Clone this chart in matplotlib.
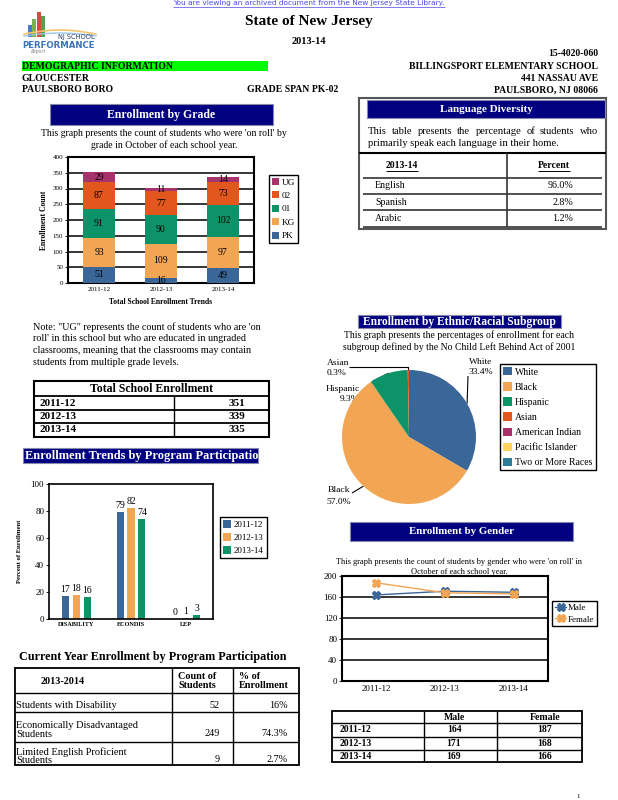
"""NJ School Performance Report - demographic information page, redrawn."""
import matplotlib
matplotlib.use("Agg")
import matplotlib.pyplot as plt
import numpy as np
from matplotlib.patches import Rectangle

plt.rcParams["font.family"] = ["Liberation Serif", "DejaVu Serif"]

W, H = 618, 800
NAVY = "#000080"
BLUE, ORANGE, GREEN = "#3B6698", "#F2A553", "#0C9468"
RED, PURPLE, YELLOW, TEAL = "#E2571E", "#A8336C", "#FFD35E", "#2C7C98"

# enrollment by grade
years = ["2011-12", "2012-13", "2013-14"]
grade_names = ["PK", "KG", "01", "02", "UG"]
pk = [51, 16, 49]
kg = [93, 109, 97]
g01 = [91, 90, 102]
g02 = [87, 77, 73]
ug = [29, 11, 14]
grade_colors = [BLUE, ORANGE, GREEN, RED, PURPLE]

total_enrollment = [351, 339, 335]

languages = ["English", "Spanish", "Arabic"]
language_pct = ["96.0%", "2.8%", "1.2%"]

# program participation trends (percent)
programs = ["DISABILITY", "ECONDIS", "LEP"]
program_2011 = [17, 79, 0]
program_2012 = [18, 82, 1]
program_2013 = [16, 74, 3]

subgroups = ["White", "Black", "Hispanic", "Asian", "American Indian",
             "Pacific Islander", "Two or More Races"]
subgroup_pct = [33.4, 57.0, 9.3, 0.3, 0.0, 0.0, 0.0]
subgroup_colors = [BLUE, ORANGE, GREEN, RED, PURPLE, YELLOW, TEAL]

current_programs = ["Students with Disability",
                    "Economically Disadvantaged\nStudents",
                    "Limited English Proficient\nStudents"]
current_counts = [52, 249, 9]
current_pct = ["16%", "74.3%", "2.7%"]

male = [164, 171, 169]
female = [187, 168, 166]


fig = plt.figure(figsize=(W / 100, H / 100), dpi=100)
page = fig.add_axes([0, 0, 1, 1])
page.set_xlim(0, W)
page.set_ylim(H, 0)
page.axis("off")
rend = fig.canvas.get_renderer()


def axes_px(x0, y0, x1, y1):
    return fig.add_axes([x0 / W, 1 - y1 / H, (x1 - x0) / W, (y1 - y0) / H])


def txt(x, y, s, fs=7, **kw):
    kw.setdefault("va", "center")
    return page.text(x, y, s, fontsize=fs, **kw)


def line(xs, ys, lw=1.0, color="black"):
    page.plot(xs, ys, color=color, lw=lw, solid_capstyle="butt")


def box(x0, y0, x1, y1, lw=1.0, fc="none", ec="black"):
    page.add_patch(Rectangle((x0, y0), x1 - x0, y1 - y0, fc=fc, ec=ec, lw=lw))


def header(x0, y0, x1, y1, s, fs=8.5, ha="center"):
    r = Rectangle((x0, y0), x1 - x0, y1 - y0, fc=NAVY, ec="#8888aa", lw=0.8)
    page.add_patch(r)
    tx = (x0 + x1) / 2 if ha == "center" else x0 + 2
    t = txt(tx, (y0 + y1) / 2 + 0.5, s, fs, ha=ha, color="white", weight="bold")
    t.set_clip_path(r)


def underline(t, dy=5, color="black", lw=0.7):
    bb = t.get_window_extent(rend)
    y = H - (bb.y0 + bb.y1) / 2 + dy
    line([bb.x0, bb.x1], [y, y], lw=lw, color=color)


def justify(x0, x1, y, s, fs):
    words = s.split()
    items = [txt(0, y, w, fs) for w in words]
    widths = [t.get_window_extent(rend).width for t in items]
    gap = (x1 - x0 - sum(widths)) / (len(words) - 1)
    x = x0
    for t, w in zip(items, widths):
        t.set_x(x)
        x += w + gap


# ---- page header ----
t = txt(309, 3, "You are viewing an archived document from the New Jersey State Library.",
        5.3, ha="center", color="#4848e8", family="DejaVu Sans")
underline(t, dy=3.5, color="#4848e8", lw=0.5)

# logo
for (lx, ly, c) in [(28, 25, "#4a78c8"), (32, 19, "#7cb342"), (37, 12, "#d84a3a"), (41, 16, "#5aa04a")]:
    box(lx, ly, lx + 4, 37, lw=0, fc=c)
sx = np.linspace(24, 96, 50)
page.plot(sx, 34 - 4 * np.sin((sx - 24) / 72 * np.pi), color="#f3c56a", lw=1.2)
page.plot(sx, 36 - 3 * np.sin((sx - 24) / 72 * np.pi), color="#9cc7e8", lw=1.0)
txt(95, 37.5, "NJ SCHOOL", 4.8, ha="right", color="#2b3a6a", family="DejaVu Sans")
txt(95, 45, "PERFORMANCE", 6.2, ha="right", color="#3b73b9", weight="bold", family="DejaVu Sans")
txt(30, 52, "Report", 4, color="#777777", style="italic")

txt(309, 22, "State of New Jersey", 11, ha="center", weight="bold")
txt(309, 42, "2013-14", 7.5, ha="center", weight="bold")
box(22, 61, 268, 71, lw=0, fc="#00ff00")
txt(22, 66.5, "DEMOGRAPHIC INFORMATION", 7, weight="bold")
txt(22, 78.5, "GLOUCESTER", 7, weight="bold")
txt(22, 90, "PAULSBORO BORO", 7, weight="bold")
txt(247, 89, "GRADE SPAN PK-02", 7, weight="bold")
txt(598, 54, "15-4020-060", 7, ha="right", weight="bold")
txt(598, 66.5, "BILLINGSPORT ELEMENTARY SCHOOL", 7, ha="right", weight="bold")
txt(598, 78.5, "441 NASSAU AVE", 7, ha="right", weight="bold")
txt(598, 90, "PAULSBORO, NJ 08066", 7, ha="right", weight="bold")

# ---- enrollment by grade ----
header(50, 104, 273, 125, "Enrollment by Grade", 8.5)
txt(164, 133, "This graph presents the count of students who were 'on roll' by", 7.05, ha="center")
txt(164, 145, "grade in October of each school year.", 7.05, ha="center")

ax = axes_px(68, 157, 254, 283)
x = np.arange(len(years))
bottom = np.zeros(len(years))
bars = []
for vals, c in zip([pk, kg, g01, g02, ug], grade_colors):
    b = ax.bar(x, vals, 0.52, bottom=bottom, color=c, zorder=3)
    for xi, v, b0 in zip(x, vals, bottom):
        ax.text(xi, b0 + v / 2, str(v), ha="center", va="center", fontsize=7, zorder=4)
    bottom += np.array(vals)
    bars.append(b)
ax.set_xlim(-0.5, 2.5)
ax.set_ylim(0, 400)
ax.set_yticks(range(0, 401, 50))
ax.set_xticks(x, years)
ax.grid(axis="y", color="black", lw=1.1, zorder=1)
ax.tick_params(labelsize=5, length=2, width=0.6, pad=1.5)
ax.tick_params(axis="x", length=0, pad=3)
for s in ax.spines.values():
    s.set_linewidth(1.5)
ax.set_ylabel("Enrollment Count", fontsize=5.5, weight="bold", labelpad=3)
ax.set_xlabel("Total School Enrollment Trends", fontsize=5.5, weight="bold", labelpad=4)
ax.legend(bars[::-1], grade_names[::-1], loc="upper left",
          bbox_to_anchor=(269 / W, 1 - 175 / H), bbox_transform=fig.transFigure,
          fontsize=6.7, handlelength=0.8, handleheight=0.8, handletextpad=0.25,
          labelspacing=0.5, borderpad=0.3, borderaxespad=0, fancybox=False,
          edgecolor="black", framealpha=1)

# ---- language diversity ----
box(359, 98, 606, 229, lw=1.5, ec="#555555")
header(367, 100, 605, 118, "Language Diversity", 8)
justify(368, 598, 131, "This table presents the percentage of students who", 7.6)
txt(368, 143, "primarily speak each language in their home.", 7.6)
line([359, 606], [153, 153], lw=1.5)
for yy in [178, 194, 210, 227]:
    line([363, 602], [yy, yy], lw=1.2, color="#333333")
line([507, 507], [153, 227], lw=1.2, color="#333333")
underline(txt(402, 166, "2013-14", 7, ha="center", weight="bold"))
underline(txt(554, 166, "Percent", 7, ha="center", weight="bold"))
for i, (lang, pct) in enumerate(zip(languages, language_pct)):
    yy = 186 + 16.3 * i
    txt(375, yy, lang, 7.2)
    txt(573, yy, pct, 7.2, ha="right")

# ---- note + total enrollment ----
note = ["Note: \"UG\" represents the count of students who are 'on",
        "roll' in this school but who are educated in ungraded",
        "classrooms, meaning that the classrooms may contain",
        "students from multiple grade levels."]
for i, s in enumerate(note):
    txt(33, 327 + 11.7 * i, s, 7.25)

box(34, 381, 269, 437, lw=1.5)
txt(151, 389, "Total School Enrollment", 8.5, ha="center", weight="bold")
for yy in [396, 410, 423]:
    line([34, 269], [yy, yy], lw=1.3)
line([174, 174], [396, 437], lw=1.0)
for i, (yr, n) in enumerate(zip(years, total_enrollment)):
    yy = 403 + 13.5 * i
    txt(40, yy, yr, 8, weight="bold")
    txt(237, yy, str(n), 8, ha="center", weight="bold")

# ---- enrollment trends by program ----
header(23, 448, 258, 463, "Enrollment Trends by Program Participation", 8.9, ha="left")
ax = axes_px(49, 484, 213, 619)
handles = []
for off, vals, c in zip([-0.2, 0, 0.2], [program_2011, program_2012, program_2013],
                        [BLUE, ORANGE, GREEN]):
    b = ax.bar(x + off, vals, 0.13, color=c)
    handles.append(b)
    for xi, v in zip(x + off, vals):
        ax.text(xi, v + 1.5, str(v), ha="center", va="bottom", fontsize=7)
ax.set_xlim(-0.5, 2.5)
ax.set_ylim(0, 100)
ax.set_yticks(range(0, 101, 20))
ax.set_xticks(x, programs)
ax.tick_params(axis="y", labelsize=6.5, length=2, width=0.6, pad=1.5)
ax.tick_params(axis="x", labelsize=4.5, length=0, pad=2)
for lab in ax.get_xticklabels():
    lab.set_fontweight("bold")
for s in ax.spines.values():
    s.set_linewidth(1.2)
ax.set_ylabel("Percent of Enrollment", fontsize=4.8, weight="bold", labelpad=6)
ax.legend(handles, years, loc="upper left",
          bbox_to_anchor=(220 / W, 1 - 517 / H), bbox_transform=fig.transFigure,
          fontsize=6.5, handlelength=0.9, handleheight=0.9, handletextpad=0.3,
          labelspacing=0.45, borderpad=0.35, borderaxespad=0, fancybox=False,
          edgecolor="black", framealpha=1)

# ---- current year program table ----
txt(153, 657, "Current Year Enrollment by Program Participation", 8.7, ha="center", weight="bold")
box(15, 668, 299, 765, lw=1.3)
for xx in [172, 233]:
    line([xx, xx], [668, 765], lw=1.0)
for yy in [693, 712, 742]:
    line([15, 299], [yy, yy], lw=1.0)
txt(63, 681, "2013-2014", 7.3, ha="center", weight="bold")
txt(178, 681, "Count of\nStudents", 7.3, weight="bold", linespacing=1.0)
txt(239, 681, "% of\nEnrollment", 7.3, weight="bold", linespacing=1.0)
row_y = [705, 730, 756]
for yy, name, n, pct in zip(row_y, current_programs, current_counts, current_pct):
    txt(16, yy, name, 7.5, linespacing=0.95)
    txt(220, yy + (4 if "\n" in name else 0), str(n), 7.3, ha="right")
    txt(288, yy + (4 if "\n" in name else 0), pct, 7.3, ha="right")

# ---- ethnic / racial subgroup pie ----
header(358, 315, 561, 328, "Enrollment by Ethnic/Racial Subgroup", 8.3)
txt(459, 335, "This graph presents the percentages of enrollment for each", 7.0, ha="center")
txt(459, 347, "subgroup defined by the No Child Left Behind Act of 2001", 7.0, ha="center")
cx, cy, rad = 409, 437, 67
ax = axes_px(cx - rad, cy - rad, cx + rad, cy + rad)
wedges, _ = ax.pie(subgroup_pct, colors=subgroup_colors, startangle=90,
                   counterclock=False, radius=1, wedgeprops=dict(linewidth=0))
ax.set_xlim(-1, 1)
ax.set_ylim(-1, 1)
ax.legend(wedges, subgroups, loc="upper left",
          bbox_to_anchor=(500 / W, 1 - 364 / H), bbox_transform=fig.transFigure,
          fontsize=7, handlelength=0.9, handleheight=0.9, handletextpad=0.3,
          labelspacing=0.58, borderpad=0.35, borderaxespad=0, fancybox=False,
          edgecolor="black", framealpha=1)

frac = np.array(subgroup_pct) / sum(subgroup_pct)
cum = np.concatenate([[0], np.cumsum(frac)])
mid = np.radians(90 - 360 * (cum[:-1] + cum[1:]) / 2)
edge = [(cx + rad * np.cos(a), cy - rad * np.sin(a)) for a in mid]
txt(469, 362, "White", 6.8)
txt(469, 372, "33.4%", 6.8)
line([468, edge[0][0]], [376, edge[0][1]], lw=0.8)
txt(339, 490, "Black", 6.8, ha="center")
txt(339, 502, "57.0%", 6.8, ha="center")
line([352, edge[1][0]], [493, edge[1][1]], lw=0.8)
txt(360, 389, "Hispanic", 6.8, ha="right")
txt(360, 399, "9.3%", 6.8, ha="right")
line([361, 368, 373, edge[2][0]], [393, 391, 381, edge[2][1]], lw=0.8)
txt(327, 363, "Asian", 6.8)
txt(327, 373, "0.3%", 6.8)
line([349, edge[3][0], edge[3][0]], [367, 367, edge[3][1]], lw=0.8)

# ---- enrollment by gender ----
header(350, 522, 573, 541, "Enrollment by Gender", 7.8)
txt(459, 562, "This graph presents the count of students by gender who were 'on roll' in", 6.0, ha="center")
txt(459, 572, "October of each school year.", 6.0, ha="center")
ax = axes_px(342, 576, 548, 681)
ax.plot(x, male, color=BLUE, marker="X", ms=5.5, lw=1, label="Male", zorder=3)
ax.plot(x, female, color=ORANGE, marker="X", ms=5.5, lw=1, label="Female", zorder=3)
ax.set_xlim(-0.5, 2.5)
ax.set_ylim(0, 200)
ax.set_yticks(range(0, 201, 40))
ax.set_xticks(x, years)
ax.grid(axis="y", color="black", lw=1.1, zorder=1)
ax.tick_params(labelsize=6.5, length=2, width=0.6, pad=1.5)
ax.tick_params(axis="x", length=0, pad=3)
for s in ax.spines.values():
    s.set_linewidth(1.5)
ax.legend(loc="upper left", bbox_to_anchor=(552 / W, 1 - 601 / H),
          bbox_transform=fig.transFigure, fontsize=6.5, handlelength=1.3,
          handletextpad=0.2, labelspacing=0.35, borderpad=0.3, borderaxespad=0,
          fancybox=False, edgecolor="black", framealpha=1)

box(332, 711, 582, 762, lw=1.3)
for xx in [424, 497]:
    line([xx, xx], [711, 762], lw=1.0)
for yy in [723, 737, 750]:
    line([332, 582], [yy, yy], lw=1.0)
txt(454, 717, "Male", 7, ha="center", weight="bold")
txt(545, 717, "Female", 7, ha="center", weight="bold")
for i, (yr, m, f) in enumerate(zip(years, male, female)):
    yy = 730 + 13.3 * i
    txt(340, yy, yr, 7, weight="bold")
    txt(454, yy, str(m), 7, ha="center", weight="bold")
    txt(545, yy, str(f), 7, ha="center", weight="bold")

txt(578, 797, "1", 5, ha="center")

fig.savefig("out.png", dpi=100)
